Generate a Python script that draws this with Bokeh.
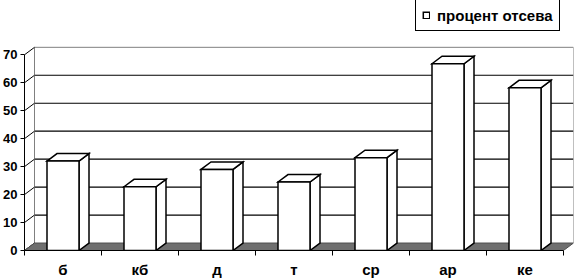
from bokeh.plotting import figure
from bokeh.models import Range1d, LinearAxis, FixedTicker, Legend, LegendItem
from bokeh.embed import file_html
from bokeh.resources import INLINE

# ---- data ----
categories = ["б", "кб", "д", "т", "ср", "ар", "ке"]
values = [32.0, 22.8, 29.0, 24.5, 33.2, 66.8, 58.2]
y_ticks = [0, 10, 20, 30, 40, 50, 60, 70]
series_name = "процент отсева"

# ---- layout constants (pixels) ----
W, H = 575, 280
LEFT, RIGHT, TOP, BOTTOM = 24, 2, 0, 29
FRAME_W = W - LEFT - RIGHT
FRAME_H = H - TOP - BOTTOM          # frame spans from the very top
PLOT_TOP = 47                       # top of the back wall (px from top)
DX, DY = 10, 7.5                    # 3-D depth offset
BAR_PX = 32
FONT = "Liberation Sans"
LEG_L, LEG_B = 415, 32              # legend left edge / bottom edge (px from top)

N = len(categories)
px_x = (FRAME_W - DX) / N
y_max = y_ticks[-1]
px_y = (FRAME_H - PLOT_TOP - DY) / y_max
dxu = DX / px_x
dyu = DY / px_y
bw = BAR_PX / px_x

p = figure(width=W, height=H, output_backend="svg", toolbar_location=None,
           x_range=Range1d(0, N + dxu), y_range=Range1d(0, FRAME_H / px_y),
           x_axis_type=None, y_axis_type=None,
           min_border_left=LEFT, min_border_right=RIGHT,
           min_border_top=TOP, min_border_bottom=BOTTOM)
p.outline_line_color = None
p.background_fill_color = "white"
p.border_fill_color = "white"

# back wall gridlines
inner = y_ticks[1:-1]
p.segment(x0=[dxu] * len(inner), y0=[v + dyu for v in inner],
          x1=[N + dxu] * len(inner), y1=[v + dyu for v in inner],
          line_color="black", line_width=1.2)
# back wall border (left, top, right)
p.line(x=[dxu, dxu, N + dxu, N + dxu], y=[dyu, y_max + dyu, y_max + dyu, dyu],
       line_color="#808080", line_width=1)
# side wall diagonals
p.segment(x0=[0] * len(y_ticks), y0=y_ticks,
          x1=[dxu] * len(y_ticks), y1=[v + dyu for v in y_ticks],
          line_color="black", line_width=1)
# floor
p.patch(x=[0, N, N + dxu, dxu], y=[0, 0, dyu, dyu],
        fill_color="#6f6f6f", line_color="#505050", line_width=1)

# bars
lefts = [i + 0.5 - bw / 2 for i in range(N)]
rights = [i + 0.5 + bw / 2 for i in range(N)]
side_xs = [[r, r + dxu, r + dxu, r] for r in rights]
side_ys = [[0, dyu, v + dyu, v] for v in values]
top_xs = [[l, l + dxu, r + dxu, r] for l, r in zip(lefts, rights)]
top_ys = [[v, v + dyu, v + dyu, v] for v in values]
p.patches(xs=side_xs, ys=side_ys, fill_color="white", line_color="black",
          line_width=1.5, line_join="miter")
p.patches(xs=top_xs, ys=top_ys, fill_color="white", line_color="black",
          line_width=1.5, line_join="miter")
fronts = p.quad(left=lefts, right=rights, bottom=[0] * N, top=values,
                fill_color="white", line_color="black", line_width=1.5,
                line_join="miter")

# y axis
yaxis = LinearAxis(ticker=FixedTicker(ticks=y_ticks), bounds=(0, y_max))
yaxis.major_tick_out = 4
yaxis.major_tick_in = 0
yaxis.minor_tick_out = 0
yaxis.minor_tick_in = 0
yaxis.major_label_standoff = 3
yaxis.axis_line_color = "black"
yaxis.major_tick_line_color = "black"
yaxis.major_label_text_font = FONT
yaxis.major_label_text_font_style = "bold"
yaxis.major_label_text_font_size = "13px"
yaxis.major_label_text_color = "black"
p.add_layout(yaxis, "left")

# x axis
centers = [i + 0.5 for i in range(N)]
xaxis = LinearAxis(ticker=FixedTicker(ticks=centers, minor_ticks=list(range(N + 1))),
                   bounds=(0, N))
xaxis.major_label_overrides = {c: lab for c, lab in zip(centers, categories)}
xaxis.major_tick_line_color = None
xaxis.major_tick_out = 0
xaxis.major_tick_in = 0
xaxis.minor_tick_out = 5
xaxis.minor_tick_in = 0
xaxis.minor_tick_line_color = "black"
xaxis.axis_line_color = "black"
xaxis.major_label_standoff = 5
xaxis.major_label_text_font = FONT
xaxis.major_label_text_font_style = "bold"
xaxis.major_label_text_font_size = "15px"
xaxis.major_label_text_color = "black"
p.add_layout(xaxis, "below")

# legend (its own border forms the box)
legend = Legend(items=[LegendItem(label=series_name, renderers=[fronts])],
                location=(LEG_L - LEFT, FRAME_H - LEG_B))
legend.border_line_color = "black"
legend.border_line_width = 1.5
legend.border_line_alpha = 1
legend.background_fill_color = "white"
legend.background_fill_alpha = 1
legend.padding = 6
legend.margin = 0
legend.glyph_width = 8
legend.glyph_height = 8
legend.label_standoff = 7
legend.label_height = 18
legend.label_text_font = FONT
legend.label_text_font_style = "bold"
legend.label_text_font_size = "15px"
legend.label_text_color = "black"
p.add_layout(legend)

open("out.html", "w").write(file_html(p, INLINE))
